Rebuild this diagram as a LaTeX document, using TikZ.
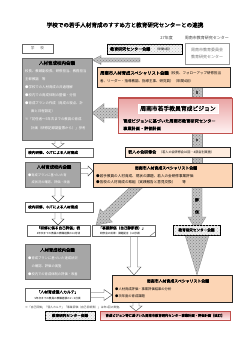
\documentclass[tikz,border=0pt]{standalone}
\usepackage{fontspec}
\setmainfont{Noto Sans CJK JP}[AutoFakeBold=1.6]
\usetikzlibrary{calc,patterns}
\definecolor{gfill}{HTML}{A6A6A6}
\definecolor{gdraw}{HTML}{6A6A6A}
\definecolor{ofill}{HTML}{FCD5B5}
\definecolor{pinkT}{HTML}{E9A3A3}
\definecolor{pinkB}{HTML}{FFF2F2}
\definecolor{pinkD}{HTML}{C0504D}
\definecolor{dotg}{HTML}{C4C4C4}
\newcommand\fsz[1]{\fontsize{#1pt}{#1pt}\selectfont}
\newcommand\blockarr[6]{%
  \coordinate (tmpB) at ($(#3)!#6!(#2)$);
  \path[#1] ($(#2)!#4!90:(#3)$) -- ($(tmpB)!#4!90:(#3)$) -- ($(tmpB)!#5!90:(#3)$) -- (#3)
    -- ($(tmpB)!#5!-90:(#3)$) -- ($(tmpB)!#4!-90:(#3)$) -- ($(#2)!#4!-90:(#3)$) -- cycle;}
\pgfdeclarelayer{bg}
\pgfsetlayers{bg,main}
\tikzset{
  box/.style={anchor=center, inner sep=0pt, outer sep=0pt},
  graybox/.style={box, fill=gfill, draw=gdraw, line width=0.9pt},
  orbox/.style={box, fill=ofill, draw=black!85, line width=0.8pt},
  thinbox/.style={box, fill=white, draw=black!60, line width=0.4pt},
  dotbox/.style={box, fill=black!5, draw=black, line width=0.8pt,
     postaction={pattern=crosshatch dots, pattern color=black!25}},
  dotarr/.style={fill=dotg, draw=black!45, line width=0.3pt,
     postaction={pattern=crosshatch dots, pattern color=black!50}},
  whitearr/.style={fill=white, draw=black!70, line width=0.4pt},
  pinkbox/.style={box, top color=pinkT, bottom color=pinkB, draw=pinkD, line width=0.6pt},
  txt/.style={inner sep=0pt, anchor=west},
  ctxt/.style={inner sep=0pt, anchor=center},
  wt/.style={txt, text=white, font=\fsz{3.4}},
}
\begin{document}
\begin{tikzpicture}[x=1pt,y=-1pt]
\useasboundingbox (0,0) rectangle (250,353);
\begin{pgfonlayer}{bg}
\fill[white] (0,0) rectangle (250,353);
\end{pgfonlayer}

% ---------- title ----------
\node[ctxt, font=\fsz{5.6}\bfseries] (title) at (125,25) {学校での若手人材育成のすすめ方と教育研究センターとの連携};
\node[inner sep=0pt, anchor=east, font=\fsz{4}, text=black!75] (sub) at (229,38) {27年度\hspace{12pt}周南市教育研究センター};

% ---------- boxes ----------
\node[thinbox, minimum width=31, minimum height=9] (school) at (37.5,48.5) {};
\node[ctxt, font=\fsz{3.6}, text=black!65] (schoolt) at (school) {学\hspace{6pt}校};

\node[dotbox, minimum width=75, minimum height=10] (cm1) at (144.5,49) {};
\node[txt] (cm1t) at (110,49) {{\fsz{4}\bfseries 教育研究センター会議}\hspace{5pt}{\fsz{3}（年間4回）}};

\node[thinbox, draw=black!40, minimum width=44, minimum height=21] (boe) at (207,53.5) {};
\node[ctxt, font=\fsz{4}, text=black!55, align=center] (boet) at (boe) {周南市教育委員会\\[3pt]教育研究センター};

\node[graybox, minimum width=70, minimum height=82] (g1) at (57,99) {};
\node[ctxt, font=\fsz{4.5}\bfseries] (g1t) at (57,63) {人材育成校内会議};
\node[wt] (g1a) at (25,71) {校長、教頭副校長、研修担当、教務担当};
\node[wt] (g1b) at (25,79) {主幹教諭\hspace{3.4pt}等};
\node[wt] (g1c) at (25,87) {●学校での人材育成の共通理解};
\node[wt] (g1d) at (25,95) {●校内での育成体制の整備・分担};
\node[wt] (g1e) at (25,103) {●育成プランの作成（育成の視点、計};
\node[wt] (g1f) at (31,111) {画と日程設定）};
\node[wt] (g1g) at (25,119.5) {※「初任者〜5年次までの教員の育成};
\node[wt] (g1h) at (31,128) {計画（研修記録調査票から）」参考};

\node[orbox, minimum width=133, minimum height=20] (sp1) at (163.5,77) {};
\node[txt] (sp1a) at (100,73) {{\fsz{4.3}\bfseries 周南市人材育成スペシャリスト会議}{\fsz{3.5}（校長、フォローアップ研修担当}};
\node[txt, font=\fsz{3.5}] (sp1b) at (100,81.5) {者、リーダー・指導教諭、指導主事、研究員）（年間4回）};

\node[pinkbox, minimum width=114, minimum height=35] (vis) at (175,115.5) {};
\draw[pinkD, line width=1.2pt] (vis.north west) -- (vis.north east);
\node[box, fill=pinkB!70!white, draw=white, line width=0.6pt, minimum width=80, minimum height=9, font=\fsz{5.8}\bfseries] (vist) at (178,108.5) {周南市若手教員育成ビジョン};
\node[txt, font=\fsz{4.2}\bfseries] (visa) at (123,121) {育成ビジョンに基づいた周南市教育研究センター};
\node[txt, font=\fsz{4.2}\bfseries] (visb) at (123,128.5) {事業計画・評価計画};

\node[thinbox, minimum width=68, minimum height=9] (kn1) at (59,152.5) {};
\node[txt, font=\fsz{3.6}\bfseries] (kn1t) at (28,152.5) {校内研修、OJTによる人材育成};

\node[orbox, fill=ofill!45!white, minimum width=105, minimum height=10] (wak) at (177.5,152) {};
\node[txt] (wakt) at (128,152) {{\fsz{4}\bfseries 若人の会研修会}\hspace{3pt}{\fsz{3.1}（若人の会研修会10回・4部会別実施）}};

\node[graybox, minimum width=55, minimum height=25] (g2) at (52.5,174.5) {};
\node[ctxt, font=\fsz{4.3}\bfseries] (g2t) at (54,167) {人材育成校内会議};
\node[wt, font=\fsz{3.2}] (g2a) at (28,175) {●育成プランに基づいた育};
\node[wt, font=\fsz{3.2}] (g2b) at (31.5,182) {成状況の確認、評価・改善};

\node[orbox, minimum width=139, minimum height=24] (sp2) at (162.5,175) {};
\node[ctxt, font=\fsz{3.9}\bfseries] (sp2t) at (166,168) {周南市人材育成スペシャリスト会議};
\node[txt, font=\fsz{3.6}] (sp2a) at (96,176) {●若手教員の人材育成、現状の課題、若人の会研修事業評価};
\node[txt, font=\fsz{3.6}] (sp2b) at (96,182.5) {●各校の人材育成の取組（実践報告と意見交換）\hspace{7pt}等};

\node[thinbox, minimum width=68, minimum height=10] (kn2) at (59,207) {};
\node[txt, font=\fsz{3.6}\bfseries] (kn2t) at (28,207) {校内研修、OJTによる人材育成};

\node[thinbox, minimum width=63, minimum height=11] (jk) at (58.5,230.5) {};
\node[ctxt, font=\fsz{3.6}\bfseries] (jkt) at (58.5,228) {「研修に係る自己評価」表};
\node[ctxt, font=\fsz{2.6}] (jks) at (58.5,233.5) {5年次までの教員の教職経験の10月頃};

\node[thinbox, minimum width=63, minimum height=11] (jg) at (123.5,230.5) {};
\draw[black!60, line width=0.4pt, fill=black!10] (jg.south east) ++(-5,0) -- ++(5,-4) -- ++(-5,4);
\node[ctxt, font=\fsz{3.6}\bfseries] (jgt) at (122,228) {「事業評価（自己診断表）」};
\node[ctxt, font=\fsz{2.6}] (jgs) at (121,233.5) {研修会の成果・課題提言（12月頃）};

\node[dotbox, minimum width=47, minimum height=10] (cm2) at (196.5,230) {};
\node[ctxt, font=\fsz{3.6}\bfseries] (cm2t) at (cm2) {教育研究センター会議};

\node[graybox, minimum width=65, minimum height=35] (g3) at (57.5,262) {};
\node[ctxt, font=\fsz{4.3}\bfseries] (g3t) at (57.5,250) {人材育成校内会議};
\node[wt, font=\fsz{3.3}] (g3a) at (28,258.5) {●育成プランに基づいた達成状況};
\node[wt, font=\fsz{3.3}] (g3b) at (31.5,266.5) {の確認、評価の実施};
\node[wt, font=\fsz{3.3}] (g3c) at (28,274.5) {●校内での育成体制の評価・改善};

\node[thinbox, minimum width=65, minimum height=13] (kar) at (57.5,295) {};
\node[ctxt, font=\fsz{3.8}\bfseries] (kart) at (57.5,292) {「人材育成個人カルテ」};
\node[ctxt, font=\fsz{2.6}] (kars) at (57.5,298.5) {5年次までの教員の教職経験の1〜3月頃};

\node[orbox, minimum width=120, minimum height=27] (sp3) at (172,288.5) {};
\node[ctxt, font=\fsz{3.9}\bfseries] (sp3t) at (178,281) {周南市人材育成スペシャリスト会議};
\node[txt, font=\fsz{3.3}] (sp3a) at (115,289.5) {●人材育成評価・事業評価結果の分析};
\node[txt, font=\fsz{3.3}] (sp3b) at (115,296.5) {●次年度の育成課題};

\node[txt, font=\fsz{2.8}, text=black!75] (note) at (25,307) {※「自己評価」「個人カルテ」「事業評価（自己診断表）」は年1回の実施。};

\node[dotbox, minimum width=50, minimum height=9] (cm3) at (70,315.5) {};
\node[ctxt, font=\fsz{3.6}\bfseries] (cm3t) at (cm3) {教育研究センター会議};

\node[pinkbox, minimum width=130, minimum height=9] (vis2) at (165,315.5) {};
\node[ctxt, font=\fsz{3.3}\bfseries] (vis2t) at (vis2) {育成ビジョン等に基づいた周南市教育研究センター事業計画・評価計画【改訂】};

% ---------- connectors (behind boxes) ----------
\begin{pgfonlayer}{bg}
\coordinate (xc) at (197,0);
% top left arrow from centre meeting to school meeting
\coordinate (a0s) at (140,60);
\coordinate (a0t) at (g1.east |- a0s);
\blockarr{dotarr}{a0s}{a0t}{2pt}{4.5pt}{9pt}
% vision -> school meeting
\coordinate (a1s) at ($(vis.west)+(1,-2.5)$);
\coordinate (a1t) at (g1.east |- a1s);
\blockarr{dotarr}{a1s}{a1t}{5pt}{9.5pt}{12pt}
% vertical dotted bands
\path[dotarr] ($(sp1.south -| xc)+(-5,0)$) rectangle ($(vis.north -| xc)+(5,0)$);
\path[dotarr] ($(vis.south -| xc)+(-5,0)$) rectangle ($(wak.north -| xc)+(5,0)$);
\path[dotarr] ($(wak.south -| xc)+(-5,0)$) rectangle ($(sp2.north -| xc)+(5,0)$);
\coordinate (e1) at (sp2.south -| xc);
\coordinate (e2) at (cm2.north -| xc);
\path[dotarr] ($(e1)+(-5,0)$) -- ($(e2)+(-5,-8)$) -- ($(e2)+(-9,-8)$) -- ($(e2)+(-4,0)$)
   -- ($(e2)+(4,0)$) -- ($(e2)+(9,-8)$) -- ($(e2)+(5,-8)$) -- ($(e1)+(5,0)$) -- cycle;
\coordinate (e3) at (cm2.south -| xc);
\coordinate (e4) at (sp3.north -| xc);
\path[dotarr] ($(e3)+(-12,0)$) -- ($(e3)+(12,0)$) -- (e4) -- cycle;
% diagonal arrow from specialist meeting to project evaluation
\coordinate (xd) at (137,0);
\coordinate (d1s) at ($(sp2.south -| xd)+(3,-3)$);
\coordinate (d1t) at ($(jg.north west)+(4,0)$);
\blockarr{dotarr}{d1s}{d1t}{4.5pt}{9pt}{14pt}
% white block arrows
\coordinate (xa) at (58,0);
\coordinate (b1s) at (g1.south -| xa);
\coordinate (b1t) at (kn1.north -| xa);
\blockarr{whitearr}{b1s}{b1t}{3pt}{6pt}{4.5pt}
\coordinate (b2s) at ($(g2.east)+(0,-3.5)$);
\coordinate (b2t) at (sp2.west |- b2s);
\blockarr{whitearr}{b2s}{b2t}{2.5pt}{5pt}{5pt}
\coordinate (b3s) at (g2.south -| xa);
\coordinate (b3t) at (kn2.north -| xa);
\blockarr{whitearr}{b3s}{b3t}{3pt}{6pt}{6pt}
\coordinate (b4s) at (kn2.south -| xa);
\coordinate (b4t) at (jk.north -| xa);
\blockarr{whitearr}{b4s}{b4t}{3pt}{6pt}{6pt}
\coordinate (xb) at (134,0);
\coordinate (b5s) at (jg.south -| xb);
\coordinate (b5t) at (sp3.north -| xb);
\blockarr{whitearr}{b5s}{b5t}{3.5pt}{7pt}{8pt}
\coordinate (b6s) at (kar.east);
\coordinate (b6t) at (sp3.west |- b6s);
\blockarr{whitearr}{b6s}{b6t}{2.5pt}{5.5pt}{8pt}
\coordinate (xe) at (136,0);
\coordinate (b7s) at (sp3.south -| xe);
\coordinate (b7t) at (vis2.north -| xe);
\blockarr{whitearr}{b7s}{b7t}{3pt}{6pt}{5pt}
\end{pgfonlayer}

% marks on dotted bands
\fill[black!70] ($(sp1.south -| xc)!0.5!(vis.north -| xc)$) +(-1.3,-1.3) rectangle +(1.3,1.3);
\fill[black!70] ($(vis.south -| xc)!0.5!(wak.north -| xc)$) +(-1.3,-1.3) rectangle +(1.3,1.3);
\node[ctxt, font=\fsz{3.8}\bfseries] (hyo) at (197,200) {評};
\node[ctxt, font=\fsz{3.8}\bfseries] (ka) at (197,212) {価};
\end{tikzpicture}
\end{document}
